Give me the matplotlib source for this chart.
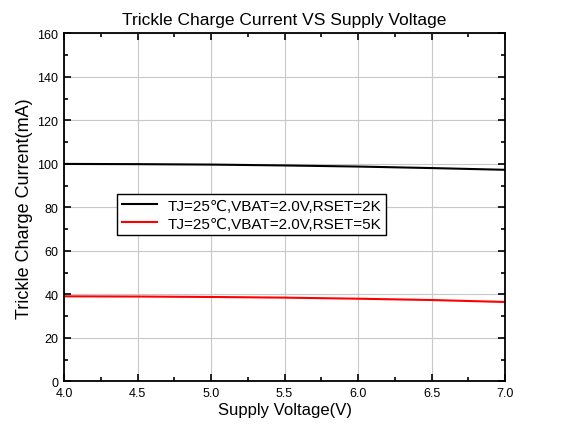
import matplotlib
matplotlib.use("Agg")
import matplotlib.pyplot as plt
from matplotlib.ticker import MultipleLocator, FormatStrFormatter

plt.rcParams['font.family'] = ['Liberation Sans', 'DejaVu Sans']

voltage = [4.0, 4.5, 5.0, 5.5, 6.0, 6.5, 7.0]
current_2k = [100.0, 99.9, 99.7, 99.3, 98.8, 98.1, 97.3]
current_5k = [39.1, 39.0, 38.8, 38.5, 38.0, 37.4, 36.5]
labels = ["TJ=25\u2103,VBAT=2.0V,RSET=2K", "TJ=25\u2103,VBAT=2.0V,RSET=5K"]

fig = plt.figure(figsize=(5.61, 4.35), dpi=100)
ax = fig.add_axes([0.1141, 0.1211, 0.7861, 0.7996])

ax.plot(voltage, current_2k, color='black', lw=1.5, label=labels[0])
ax.plot(voltage, current_5k, color='red', lw=1.5, label=labels[1])

ax.set_xlim(4.0, 7.0)
ax.set_ylim(0, 160)
ax.xaxis.set_major_locator(MultipleLocator(0.5))
ax.xaxis.set_minor_locator(MultipleLocator(0.25))
ax.yaxis.set_major_locator(MultipleLocator(20))
ax.yaxis.set_minor_locator(MultipleLocator(10))
ax.xaxis.set_major_formatter(FormatStrFormatter('%.1f'))
ax.grid(True, which='major', color='#c8c8c8', lw=0.8)
ax.set_axisbelow(True)
ax.tick_params(which='both', direction='in', top=True, right=True, labelsize=9, width=1.2)
ax.tick_params(which='major', length=5, pad=4)
ax.tick_params(which='minor', length=3)
for s in ax.spines.values():
    s.set_linewidth(1.3)

ax.set_title("Trickle Charge Current VS Supply Voltage", fontsize=12.5, pad=7)
ax.set_xlabel("Supply Voltage(V)", fontsize=12, labelpad=2)
ax.set_ylabel("Trickle Charge Current(mA)", fontsize=13, labelpad=3)

leg = ax.legend(loc='upper left', bbox_to_anchor=(0.12, 0.538), borderaxespad=0,
                fontsize=11, frameon=True, fancybox=False, edgecolor='black',
                handlelength=2.3, handletextpad=0.7, labelspacing=0.25, borderpad=0.3)
leg.get_frame().set_linewidth(1.0)
leg.get_frame().set_alpha(1)

fig.savefig("out.png", dpi=100)
